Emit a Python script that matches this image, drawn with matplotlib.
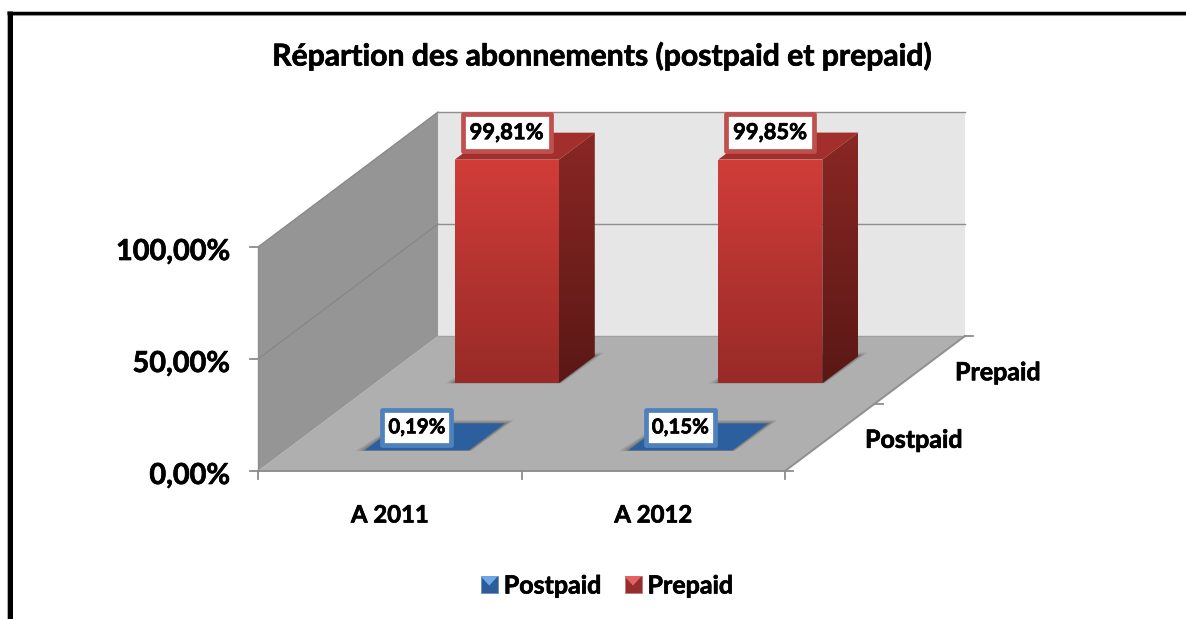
import numpy as np
import matplotlib
matplotlib.use("Agg")
import matplotlib.pyplot as plt
import matplotlib.patheffects as pe
from matplotlib.patches import Polygon, Patch, Rectangle
from matplotlib.colors import LinearSegmentedColormap
from matplotlib.legend_handler import HandlerPatch

plt.rcParams['font.family'] = ['Lato', 'DejaVu Sans']
plt.rcParams['font.weight'] = 'bold'

# data
categories = ['A 2011', 'A 2012']
series_names = ['Postpaid', 'Prepaid']
postpaid = [0.19, 0.15]
prepaid = [99.81, 99.85]
value_ticks = [0, 50, 100]
value_labels = ['0,00%', '50,00%', '100,00%']
title = 'Répartion des abonnements (postpaid et prepaid)'

W, H = 1186, 619
fig = plt.figure(figsize=(W / 100, H / 100), dpi=100)
ax = fig.add_axes([0, 0, 1, 1])
# a hair of stroke, Lato bold is lighter than the original font
heavy = [pe.withStroke(linewidth=0.5, foreground='black')]


def set_limits():
    ax.set_xlim(0, W)
    ax.set_ylim(H, 0)


set_limits()
ax.axis('off')


# oblique projection: category pos, depth (0-1), value -> pixels
def proj(c, d, v):
    return (258 + 263.5 * c + 180 * d, 471 - 2.24 * v - 135 * d)


def face(pts, color, z, **kw):
    p = Polygon([proj(*q) for q in pts], closed=True, fc=color, ec='none', zorder=z, **kw)
    ax.add_patch(p)
    return p


def grad_face(pts, top, bottom, z):
    # vertical gradient clipped to the face
    xy = np.array([proj(*q) for q in pts])
    cmap = LinearSegmentedColormap.from_list('g', [top, bottom])
    im = ax.imshow(np.linspace(0, 1, 128).reshape(-1, 1), cmap=cmap, aspect='auto', zorder=z,
                   extent=[xy[:, 0].min(), xy[:, 0].max(), xy[:, 1].max(), xy[:, 1].min()])
    clip = Polygon(xy, closed=True, transform=ax.transData, fc='none', ec='none')
    ax.add_patch(clip)
    im.set_clip_path(clip)


def label(x, y, s, size, **kw):
    ax.text(x, y, s, fontsize=size, color='black', zorder=8, path_effects=heavy, **kw)


ncat = len(categories)
top_val = value_ticks[-1]
grid = '#8c8c8c'

# walls and floor
face([(0, 0, 0), (ncat, 0, 0), (ncat, 1, 0), (0, 1, 0)], '#afafaf', 1)
face([(0, 1, 0), (ncat, 1, 0), (ncat, 1, top_val), (0, 1, top_val)], '#e6e6e6', 1)
face([(0, 0, 0), (0, 1, 0), (0, 1, top_val), (0, 0, top_val)], '#959595', 1)

for v in value_ticks:
    if v:
        ax.plot(*zip(proj(0, 0, v), proj(0, 1, v)), color='#868686', lw=0.9, zorder=2)
    lc = '#8f8f8f' if v else '#a0a0a0'
    ax.plot(*zip(proj(0, 1, v), proj(ncat, 1, v)), color=lc, lw=1.0, zorder=2)
    x0, y0 = proj(0, 0, v)
    ax.plot([x0 - 8, x0], [y0, y0], color=grid, lw=1.3, zorder=2)

# axis lines and ticks
ax.plot(*zip(proj(0, 0, 0), proj(ncat, 0, 0), proj(ncat, 1, 0)), color='#8f8f8f', lw=1.4, zorder=2)
ax.plot(*zip(proj(0, 0, 0), proj(0, 0, top_val)), color='#8f8f8f', lw=1.0, zorder=2)
for c in range(ncat + 1):
    x0, y0 = proj(c, 0, 0)
    ax.plot([x0, x0], [y0, y0 + 8], color=grid, lw=1.3, zorder=2)
for d in [0, 0.5, 1]:
    x0, y0 = proj(ncat, d, 0)
    ax.plot([x0, x0 + 8], [y0, y0], color=grid, lw=1.3, zorder=2)

# value and category labels
for v, lab in zip(value_ticks, value_labels):
    x0, y0 = proj(0, 0, v)
    label(x0 - 28, y0 + 5, lab, 20.8, ha='right', va='center')
for c, lab in enumerate(categories):
    x0, y0 = proj(c + 0.5, 0, 0)
    label(x0, y0 + 44, lab, 17.2, ha='center', va='center')
for name, d in zip(series_names, [0.25, 0.75]):
    x0, y0 = proj(ncat, d, 0)
    label(x0 + 35, y0 + 3, name, 18, ha='left', va='center')

label(602.5, 56, title, 21.7, ha='center', va='center')

# bars
bar_w = 0.395
depth = 0.2
styles = [
    dict(top='#2b5f9e', front=('#2e64a6', '#2a5b98'), edge='#4f81bd', size=14.7, box=(69, 35)),
    dict(top='#a32f2c', front=('#d13d39', '#982a27'), edge='#c0504d', size=15.8, box=(88, 37)),
]
for s, (vals, dc, st) in enumerate(zip([postpaid, prepaid], [0.25, 0.75], styles)):
    for c, v in enumerate(vals):
        cx = c + 0.5
        l, r = cx - bar_w / 2, cx + bar_w / 2
        f, b = dc - depth / 2, dc + depth / 2
        # soft floor shadow
        for k, a in zip([9, 6, 3], [0.12, 0.16, 0.2]):
            sh = np.array([proj(l, f, 0), proj(r, f, 0), proj(r, b, 0), proj(l, b, 0)])
            sh = sh + np.array([[-k, 0], [k * 0.3, 0], [k, -k * 0.4], [k * 0.3, -k * 0.4]])
            ax.add_patch(Polygon(sh, closed=True, fc='#303030', alpha=a, ec='none', zorder=3))
        face([(l, f, v), (r, f, v), (r, b, v), (l, b, v)], st['top'], 4)
        if v > 5:
            # nearly flat bars only show their top
            grad_face([(r, f, 0), (r, b, 0), (r, b, v), (r, f, v)], '#8a2724', '#5a1815', 4)
            grad_face([(l, f, 0), (r, f, 0), (r, f, v), (l, f, v)], st['front'][0], st['front'][1], 4)
        # data label
        x0, y0 = proj(cx, f, v)
        y0 += -27 if v > 5 else -23
        bw, bh = st['box']
        ax.add_patch(Rectangle((x0 - bw / 2, y0 - bh / 2), bw, bh, fc='white', ec=st['edge'], lw=3.4,
                               joinstyle='round', zorder=7))
        label(x0, y0, f'{v:.2f}%'.replace('.', ','), st['size'], ha='center', va='center')

set_limits()


# legend key with the light wedge on top
class KeyHandler(HandlerPatch):
    def create_artists(self, legend, orig, xd, yd, w, h, fs, trans):
        s = min(w, h)
        x0, y0 = -xd + (w - s) / 2, -yd + (h - s) / 2
        sq = Rectangle((x0, y0), s, s, fc=orig.get_facecolor(), ec=orig.get_edgecolor(), lw=0.6, transform=trans)
        tri = Polygon([(x0, y0 + s), (x0 + s, y0 + s), (x0 + s * 0.5, y0 + s * 0.45)], closed=True,
                      fc=orig.light, ec='none', transform=trans)
        return [sq, tri]


h1 = Patch(fc='#2c5d98', ec='#6d8fbb', label=series_names[0])
h1.light = '#6fa8e6'
h2 = Patch(fc='#93302d', ec='#c07a78', label=series_names[1])
h2.light = '#e5625e'
leg = ax.legend(handles=[h1, h2], loc='center', bbox_to_anchor=(607 / W, 1 - 586 / H), ncol=2, frameon=False,
                fontsize=18, handlelength=0.68, handleheight=0.68, handletextpad=0.24, columnspacing=0.92,
                handler_map={Patch: KeyHandler()}, borderpad=0, borderaxespad=0)
for t in leg.get_texts():
    t.set_path_effects(heavy)

# outer frame, only top and left are in the picture
ax.plot([7, W], [14.5, 14.5], color='#c0c0c0', lw=0.8, zorder=9)
ax.plot([6.5, 6.5], [11, H], color='#b0b0b0', lw=0.8, zorder=9)
ax.plot([7, W], [12.7, 12.7], color='black', lw=2.5, zorder=10, solid_capstyle='butt')
ax.plot([9.5, 9.5], [11, H], color='black', lw=3.6, zorder=10, solid_capstyle='butt')

fig.savefig('out.png', dpi=100, facecolor='white')
